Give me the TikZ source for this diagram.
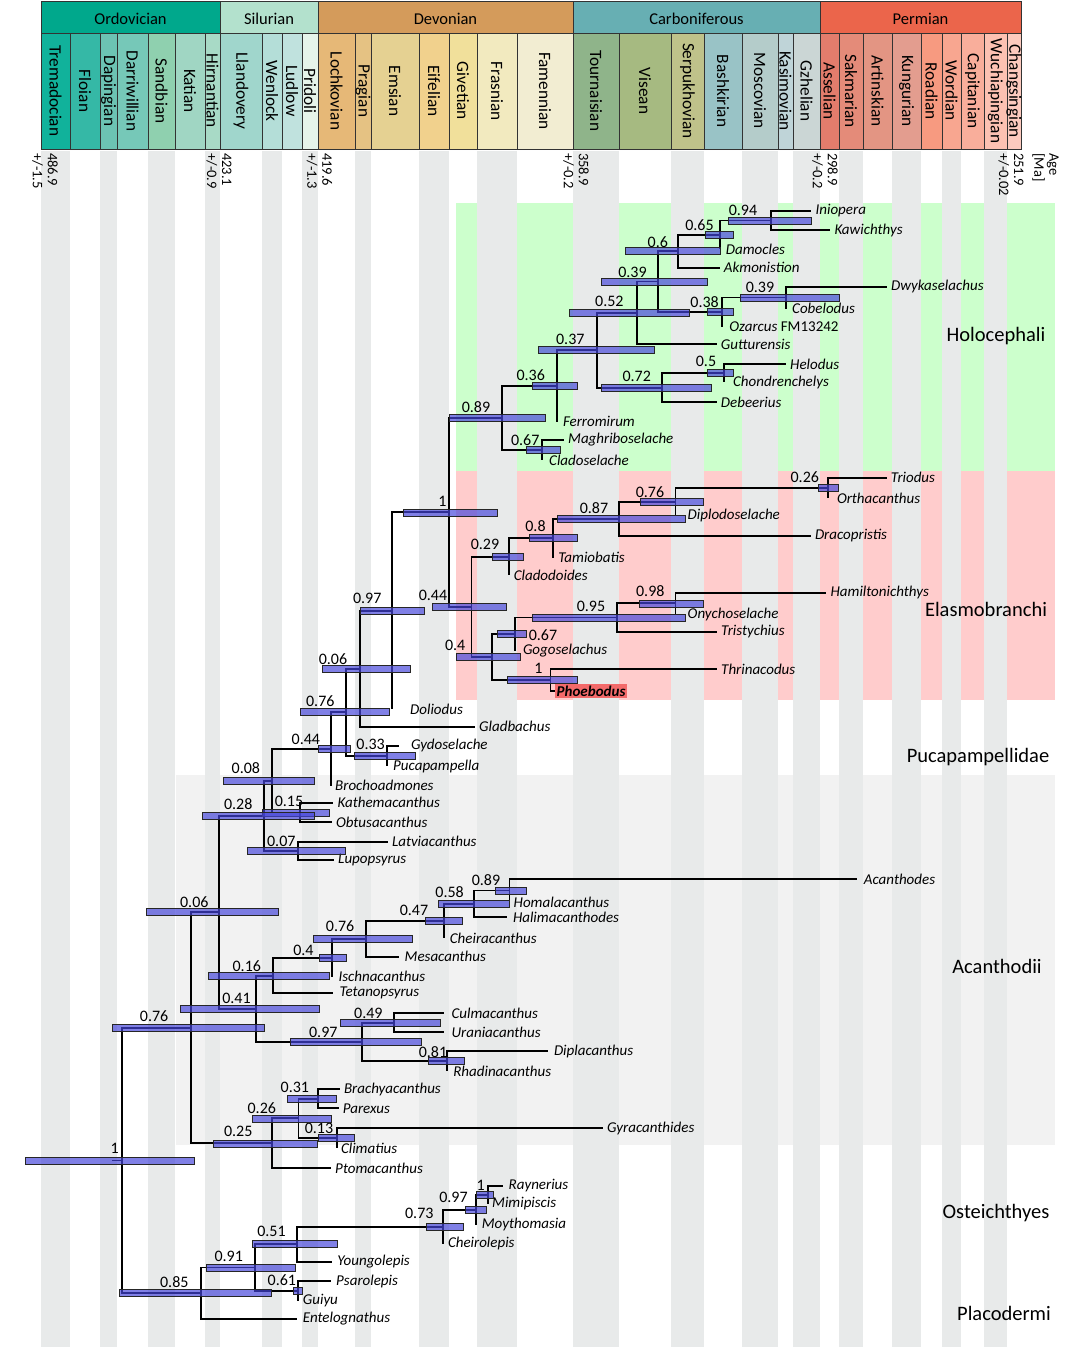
\documentclass[tikz,border=0pt]{standalone}
\usepackage{fontspec}
\setmainfont{Carlito}

\pgfdeclarelayer{back}
\pgfdeclarelayer{front}
\pgfsetlayers{back,main,front}

\definecolor{holobg}{HTML}{CCFFCC}
\definecolor{elasbg}{HTML}{FFCCCC}
\definecolor{acanbg}{HTML}{F2F2F2}
\definecolor{stripe}{HTML}{E8EAEA}
\definecolor{phoebo}{HTML}{F36A6A}
\definecolor{hpdblue}{HTML}{4545DB}

% node of the tree: name, x, y, HPD from, HPD to, support, label position
\newcommand{\nd}[7]{%
  \coordinate (#1) at (#2,#3);
  \begin{pgfonlayer}{front}
    \draw[hpd] (#4,#3-3.5) rectangle (#5,#3+3.5);
    \node[support] at (#7) {#6};
  \end{pgfonlayer}}

\begin{document}
\begin{tikzpicture}[
    x=1pt, y=-1pt,
    cell/.style={draw=black!80, line width=0.9pt},
    period/.style={font=\fontsize{16.5}{18}\selectfont},
    stage/.style={rotate=-90, font=\fontsize{17.3}{18}\selectfont},
    age/.style={rotate=-90, anchor=west, align=left, inner sep=0pt,
        font=\fontsize{14.5}{15}\selectfont},
    branch/.style={line width=1.9pt, black},
    hpd/.style={draw=black!85, line width=0.8pt, fill=hpdblue, fill opacity=0.68},
    support/.style={inner sep=0pt, font=\fontsize{16}{18}\selectfont},
    taxon/.style={anchor=west, inner xsep=4pt, inner ysep=1pt,
        font=\fontsize{15}{18}\selectfont\itshape},
    clade/.style={font=\fontsize{20.5}{24}\selectfont},
]

\useasboundingbox (0,0) rectangle (1081,1350);

% --- Clade backgrounds and stage stripes ---
\begin{pgfonlayer}{back}
    \fill[white] (0,0) rectangle (1081,1350);
    \fill[holobg] (456,203) rectangle (1055,471);
    \fill[elasbg] (456,471) rectangle (1055,700);
    \fill[acanbg] (176,775) rectangle (1055,1145);
    \foreach \a/\b in {41/70, 100/117, 148/175, 205/220, 262/282, 302/318,
        355/371, 419/449, 477/517, 573/619, 671/704, 742/778, 793/820,
        839/863, 892/921, 942/961, 984/1007}
        \fill[stripe] (\a,151) rectangle (\b,1347);
\end{pgfonlayer}

% --- Periods ---
\foreach \a/\b/\c/\t in {41/220/00A88C/Ordovician, 220/318/B3E1CD/Silurian,
    318/573/D49B5B/Devonian, 573/820/67AFB3/Carboniferous, 820/1021/EB654B/Permian}{
    \definecolor{cellc}{HTML}{\c}
    \draw[cell, fill=cellc] (\a,1) rectangle (\b,33);
    \node[period] at ({(\a+\b)/2},19) {\t};
}

% --- Stages ---
\foreach \a/\b/\c/\t in {41/70/11B29B/Tremadocian, 70/100/35B8A6/Floian,
    100/117/6CC3B3/Dapingian, 117/148/76C8B8/Darriwillian, 148/175/8FD0AF/Sandbian,
    175/205/A0D6C3/Katian, 205/220/A8DAC6/Hirnantian, 220/262/A0D6CC/Llandovery,
    262/282/B4DED8/Wenlock, 282/302/C0E2DE/Ludlow, 302/318/E6F4EA/Pridoli,
    318/355/E6B877/Lochkovian, 355/371/E5C283/Pragian, 371/419/E5D192/Emsian,
    419/449/F1D18D/Eifelian, 449/477/F1E09B/Givetian, 477/517/F2EABF/Frasnian,
    517/573/F2EDD2/Famennian, 573/619/8FB48A/Tournaisian, 619/671/A6BA81/Visean,
    671/704/BFC28A/Serpukhovian, 704/742/99C3C6/Bashkirian, 742/778/B4CCCA/Moscovian,
    778/793/BFD4D8/Kasimovian, 793/820/CBD6D5/Gzhelian, 820/839/E37C6C/Asselian,
    839/863/E48B79/Sakmarian, 863/892/E39583/Artinskian, 892/921/E39D8F/Kungurian,
    921/942/F79A80/Roadian, 942/961/F8A690/Wordian, 961/984/F9AE9B/Capitanian,
    984/1007/FCC1B2/Wuchiapingian, 1007/1021/FCCABE/Changsingian}{
    \definecolor{cellc}{HTML}{\c}
    \draw[cell, fill=cellc] (\a,33) rectangle (\b,149);
    \node[stage] at ({(\a+\b)/2},91) {\t};
}

% --- Ages ---
\node[age] (a1) at (45,153) {486.9\\+/-1.5};
\node[age] (a2) at (219,153) {423.1\\+/-0.9};
\node[age] (a3) at (319.5,153) {419.6\\+/-1.3};
\node[age] (a4) at (576,153) {358.9\\+/-0.2};
\node[age] (a5) at (825,153) {298.9\\+/-0.2};
\node[age] (a6) at (1011,153) {251.9\\+/-0.02};
\node[age] (agema) at (1045.5,153) {Age\\{[Ma]}};

% --- Internal nodes ---
% Holocephali
\nd{iniokawi}{770.6}{220.5}{728.5}{811.4}{0.94}{743,210.7}
\nd{damo}{719.7}{234.8}{705.4}{733.5}{0.65}{699.5,225}
\nd{akmo}{677.6}{251}{625}{720.6}{0.6}{657.8,241.7}
\nd{cobe}{786}{297.5}{739.9}{839.6}{0.39}{760,287.3}
\nd{ozar}{722.2}{312}{707.5}{733.5}{0.38}{704.6,301.7}
\nd{symm}{657.8}{281.5}{601.8}{707.5}{0.39}{632.5,272.3}
\nd{gutt}{637.2}{312.9}{569.4}{689.4}{0.52}{609.4,301.7}
\nd{helo}{723.9}{373}{707.5}{733.5}{0.5}{706,361.7}
\nd{debe}{662.4}{387.6}{601}{711.2}{0.72}{636.7,376.7}
\nd{holo}{596.8}{350.2}{538.7}{654.4}{0.37}{570.3,339.3}
\nd{ferr}{556.8}{385.8}{532}{577.4}{0.36}{530.7,375}
\nd{clad}{542}{450}{526.5}{560.2}{0.67}{525.2,440}
\nd{holostem}{502}{417.9}{449.5}{545.4}{0.89}{476,407.3}
% Elasmobranchi
\nd{orth}{827.8}{487.8}{818.8}{838.5}{0.26}{804.8,477.3}
\nd{dipl}{675.5}{501.7}{640}{703.7}{0.76}{650,491.7}
\nd{drac}{618.8}{518.8}{557}{685.8}{0.87}{594,508.3}
\nd{tami}{553.2}{538.3}{529.5}{577.3}{0.8}{535.5,526}
\nd{clado}{508.6}{556.6}{492.5}{523.7}{0.29}{485,544}
\nd{hami}{675.5}{603.4}{639.8}{703.7}{0.98}{650.3,591}
\nd{tris}{616.6}{617.5}{532.7}{685}{0.95}{591,606.7}
\nd{gogo}{514.8}{634.3}{497.4}{526.4}{0.67}{543,635}
\nd{thri}{550.5}{680}{507.2}{577.3}{1}{538.5,668.3}
\nd{ctena}{491.6}{657.1}{456.8}{520.6}{0.4}{455.2,645}
\nd{elas}{471.5}{606.9}{432.2}{506.3}{0.44}{433,595}
\nd{chond}{449.2}{512.4}{403.2}{497}{1}{442.5,501.7}
% Pucapampellidae and stem
\nd{doli}{392}{610.7}{360.6}{424.6}{0.97}{367.2,598.3}
\nd{glad}{359.6}{668.7}{322.5}{410.4}{0.06}{333,659}
\nd{puca}{387}{755.9}{354.6}{415.3}{0.33}{370.6,744.3}
\nd{crown}{346.3}{712.3}{300}{389.8}{0.76}{320.3,701}
\nd{broc}{331}{749}{318.2}{350.3}{0.44}{305.9,739}
\nd{kath}{300}{812.5}{262.8}{329}{0.15}{289,801}
\nd{ob}{272}{780.7}{223.6}{314.8}{0.08}{245.9,768.3}
\nd{latv}{298.3}{850.8}{247.2}{345.7}{0.07}{281.3,841}
\nd{ntw}{264.4}{815.8}{202.4}{314.2}{0.28}{238.2,804.3}
% Acanthodii
\nd{acan}{509.5}{890.5}{495}{526}{0.89}{486,880}
\nd{hali}{474}{903.9}{438.7}{509.5}{0.58}{449.6,892.3}
\nd{chei}{443.7}{921}{425.7}{462.8}{0.47}{414,910.7}
\nd{mesa}{366}{938.8}{313.5}{412}{0.76}{340.1,926}
\nd{isch}{332.3}{957.9}{319.3}{346}{0.4}{303.4,950}
\nd{teta}{273.4}{975.6}{208.3}{329.6}{0.16}{246.8,966}
\nd{culm}{393.9}{1022.8}{340.3}{440.6}{0.49}{368.4,1013.3}
\nd{diplac}{447.1}{1061}{428.4}{464.7}{0.81}{433,1051.7}
\nd{diplacid}{362}{1041.9}{290.2}{421.5}{0.97}{323.3,1032.3}
\nd{nfo}{255.8}{1008.8}{180.4}{319.3}{0.41}{236.5,998.3}
\nd{nsix}{218.6}{912.3}{146}{278}{0.06}{194.3,901.7}
\nd{brac}{318.4}{1098.7}{287.8}{336}{0.31}{294.9,1087.3}
\nd{clim}{336.8}{1138.2}{318.8}{354}{0.13}{319,1128.3}
\nd{ntsix}{298.5}{1118.4}{252.6}{331}{0.26}{261.8,1107.7}
\nd{ptom}{271.7}{1143.4}{213.5}{316.9}{0.25}{238.2,1131.7}
\nd{chondr}{191.4}{1027.8}{112.2}{264.6}{0.76}{154.1,1016}
% Osteichthyes and Placodermi
\nd{rayn}{488}{1195}{476.5}{493}{1}{480.7,1185}
\nd{moyt}{475.7}{1209.8}{465}{486.8}{0.97}{453.5,1197.7}
\nd{chrl}{442.8}{1226.6}{426}{463}{0.73}{419.3,1213.3}
\nd{youn}{296.6}{1244.2}{252.6}{337.5}{0.51}{271.5,1231.7}
\nd{guiy}{297.7}{1290.8}{293.5}{302.3}{0.61}{281.9,1280}
\nd{sarc}{254.9}{1267.5}{206.7}{295.4}{0.91}{228.7,1256.7}
\nd{oste}{201}{1293.3}{119.8}{271}{0.85}{174.3,1281.7}
\nd{root}{121.7}{1160.5}{24.9}{194.4}{1}{114.8,1148.3}

% --- Tips ---
\node[taxon] (iniopera) at (811.4,211) {Iniopera};
\node[taxon] (kawichthys) at (830.3,230) {Kawichthys};
\node[taxon, inner xsep=6pt] (damocles) at (719.7,249) {Damocles};
\node[taxon] (akmonistion) at (719.7,267.7) {Akmonistion};
\node[taxon] (dwykaselachus) at (887,286.7) {Dwykaselachus};
\node[taxon, inner xsep=6pt] (cobelodus) at (786,308.5) {Cobelodus};
\node[taxon, inner xsep=7pt] (ozarcus) at (722.2,327) {Ozarcus \textup{FM13242}};
\node[taxon] (gutturensis) at (716.7,344.3) {Gutturensis};
\node[taxon] (helodus) at (786,364) {Helodus};
\node[taxon, inner xsep=9pt] (chondrenchelys) at (723.9,382) {Chondrenchelys};
\node[taxon] (debeerius) at (716.7,402.3) {Debeerius};
\node[taxon, inner xsep=6pt] (ferromirum) at (556.8,421.5) {Ferromirum};
\node[taxon] (maghriboselache) at (564,440) {Maghriboselache};
\node[taxon, inner xsep=7pt] (cladoselache) at (542,460) {Cladoselache};

\node[taxon] (triodus) at (886.7,477.7) {Triodus};
\node[taxon, inner xsep=9pt] (orthacanthus) at (827.8,498) {Orthacanthus};
\node[taxon, inner xsep=12pt] (diplodoselache) at (675.5,515.5) {Diplodoselache};
\node[taxon] (dracopristis) at (810.8,536) {Dracopristis};
\node[taxon, inner xsep=5pt] (tamiobatis) at (553.2,557.7) {Tamiobatis};
\node[taxon, inner xsep=5pt] (cladodoides) at (508.6,575) {Cladodoides};
\node[taxon] (hamiltonichthys) at (826.4,592.7) {Hamiltonichthys};
\node[taxon, inner xsep=12pt] (onychoselache) at (675.5,614) {Onychoselache};
\node[taxon] (tristychius) at (717,631.7) {Tristychius};
\node[taxon, inner xsep=8pt] (gogoselachus) at (514.8,651) {Gogoselachus};
\node[taxon] (thrinacodus) at (717,669) {Thrinacodus};
\node[taxon, fill=phoebo, inner sep=1.5pt, font=\fontsize{15}{18}\selectfont\bfseries\itshape]
    (phoebodus) at (555,691) {Phoebodus};

\node[taxon, inner xsep=18pt] (doliodus) at (392,709) {Doliodus};
\node[taxon] (gladbachus) at (475,726.7) {Gladbachus};
\node[taxon, inner xsep=12pt] (gydoselache) at (398.8,745.7) {Gydoselache};
\node[taxon, inner xsep=6pt] (pucapampella) at (387,766) {Pucapampella};
\node[taxon] (brochoadmones) at (331,785.7) {Brochoadmones};
\node[taxon] (kathemacanthus) at (333.4,802.7) {Kathemacanthus};
\node[taxon] (obtusacanthus) at (331.8,822.3) {Obtusacanthus};
\node[taxon] (latviacanthus) at (387.8,841.7) {Latviacanthus};
\node[taxon] (lupopsyrus) at (334,860) {Lupopsyrus};

\node[taxon, inner xsep=7pt] (acanthodes) at (856.7,879) {Acanthodes};
\node[taxon] (homalacanthus) at (509.5,902) {Homalacanthus};
\node[taxon, inner xsep=6pt] (halimacanthodes) at (506.8,917.3) {Halimacanthodes};
\node[taxon, inner xsep=6pt] (cheiracanthus) at (443.7,938) {Cheiracanthus};
\node[taxon, inner xsep=6pt] (mesacanthus) at (398.5,956.7) {Mesacanthus};
\node[taxon, inner xsep=6pt] (ischnacanthus) at (332.3,976.5) {Ischnacanthus};
\node[taxon, inner xsep=6pt] (tetanopsyrus) at (333.4,993.3) {Tetanopsyrus};
\node[taxon, inner xsep=7pt] (culmacanthus) at (444.4,1013.3) {Culmacanthus};
\node[taxon, inner xsep=7pt] (uraniacanthus) at (444.4,1032.3) {Uraniacanthus};
\node[taxon, inner xsep=6pt] (diplacanthus) at (547.8,1051) {Diplacanthus};
\node[taxon, inner xsep=6pt] (rhadinacanthus) at (447.1,1071) {Rhadinacanthus};
\node[taxon] (brachyacanthus) at (339.8,1089) {Brachyacanthus};
\node[taxon] (parexus) at (338.7,1108.3) {Parexus};
\node[taxon] (gyracanthides) at (603,1128.3) {Gyracanthides};
\node[taxon] (climatius) at (336.8,1148) {Climatius};
\node[taxon] (ptomacanthus) at (331,1168.3) {Ptomacanthus};

\node[taxon, inner xsep=6pt] (raynerius) at (502.5,1186) {Raynerius};
\node[taxon] (mimipiscis) at (488,1204) {Mimipiscis};
\node[taxon, inner xsep=6pt] (moythomasia) at (475.7,1224.5) {Moythomasia};
\node[taxon, inner xsep=5pt] (cheirolepis) at (442.8,1243.5) {Cheirolepis};
\node[taxon, inner xsep=5pt] (youngolepis) at (332.2,1261.7) {Youngolepis};
\node[taxon, inner xsep=5pt] (psarolepis) at (331,1281) {Psarolepis};
\node[taxon, inner xsep=5pt] (guiyu) at (297.7,1300.5) {Guiyu};
\node[taxon, inner xsep=6pt] (entelognathus) at (296.6,1319) {Entelognathus};

% --- Branches ---
\foreach \p/\c in {iniokawi/iniopera, iniokawi/kawichthys, damo/iniokawi, damo/damocles,
    akmo/damo, akmo/akmonistion, cobe/dwykaselachus, cobe/cobelodus, ozar/cobe,
    ozar/ozarcus, symm/akmo, symm/ozar, gutt/symm, gutt/gutturensis, helo/helodus,
    helo/chondrenchelys, debe/helo, debe/debeerius, holo/gutt, holo/debe, ferr/holo,
    ferr/ferromirum, clad/maghriboselache, clad/cladoselache, holostem/ferr, holostem/clad,
    orth/triodus, orth/orthacanthus, dipl/orth, dipl/diplodoselache, drac/dipl,
    drac/dracopristis, tami/drac, tami/tamiobatis, clado/tami, clado/cladodoides,
    hami/hamiltonichthys, hami/onychoselache, tris/hami, tris/tristychius, gogo/tris,
    gogo/gogoselachus, thri/thrinacodus, thri/phoebodus, ctena/gogo, ctena/thri,
    elas/clado, elas/ctena, chond/holostem, chond/elas, doli/chond, doli/doliodus,
    glad/doli, glad/gladbachus, puca/gydoselache, puca/pucapampella, crown/glad,
    crown/puca, broc/crown, broc/brochoadmones, kath/kathemacanthus, kath/obtusacanthus,
    ob/broc, ob/kath, latv/latviacanthus, latv/lupopsyrus, ntw/ob, ntw/latv,
    acan/acanthodes, acan/homalacanthus, hali/acan, hali/halimacanthodes, chei/hali,
    chei/cheiracanthus, mesa/chei, mesa/mesacanthus, isch/mesa, isch/ischnacanthus,
    teta/isch, teta/tetanopsyrus, culm/culmacanthus, culm/uraniacanthus,
    diplac/diplacanthus, diplac/rhadinacanthus, diplacid/culm, diplacid/diplac,
    nfo/teta, nfo/diplacid, nsix/ntw, nsix/nfo, brac/brachyacanthus, brac/parexus,
    clim/gyracanthides, clim/climatius, ntsix/brac, ntsix/clim, ptom/ntsix,
    ptom/ptomacanthus, chondr/nsix, chondr/ptom, rayn/raynerius, rayn/mimipiscis,
    moyt/rayn, moyt/moythomasia, chrl/moyt, chrl/cheirolepis, youn/chrl,
    youn/youngolepis, guiy/psarolepis, guiy/guiyu, sarc/youn, sarc/guiy,
    oste/sarc, oste/entelognathus, root/chondr, root/oste}
    \draw[branch] (\p) |- (\c.west);
\draw[branch] (root) -- ++(-10,0);

% --- Clade names ---
\node[clade] (holocephali) at (996,336) {Holocephali};
\node[clade] (elasmobranchi) at (986,609) {Elasmobranchi};
\node[clade] (pucapampellidae) at (978,757) {Pucapampellidae};
\node[clade] (acanthodii) at (997,966) {Acanthodii};
\node[clade] (osteichthyes) at (996,1213) {Osteichthyes};
\node[clade] (placodermi) at (1004,1313) {Placodermi};

\end{tikzpicture}
\end{document}
